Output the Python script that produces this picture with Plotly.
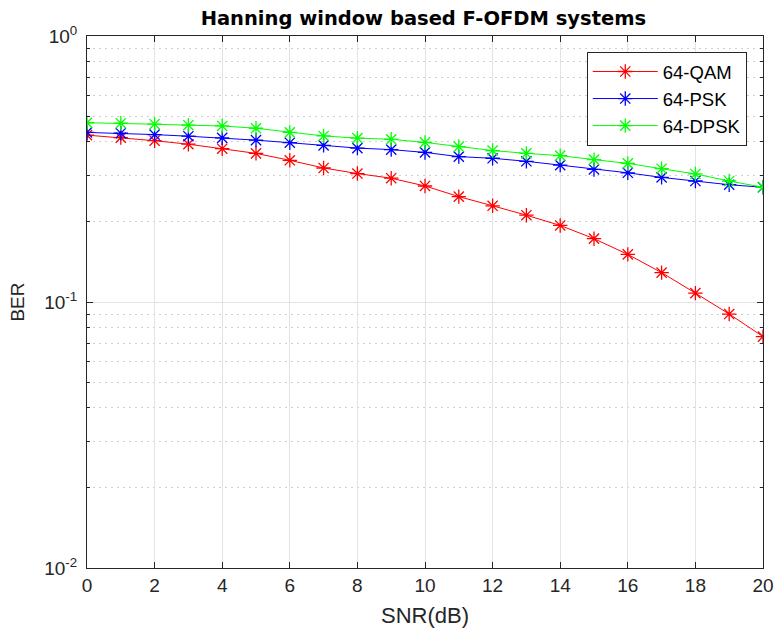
import plotly.graph_objects as go

snr = list(range(0, 21))
ber_qam = [0.424, 0.415, 0.404, 0.392, 0.377, 0.362, 0.341, 0.319, 0.304, 0.292, 0.273,
           0.249, 0.230, 0.212, 0.194, 0.173, 0.151, 0.129, 0.108, 0.0901, 0.0741]
ber_psk = [0.434, 0.431, 0.426, 0.420, 0.414, 0.406, 0.397, 0.388, 0.379, 0.374, 0.365,
           0.352, 0.347, 0.338, 0.327, 0.315, 0.306, 0.294, 0.285, 0.276, 0.270]
ber_dpsk = [0.472, 0.470, 0.466, 0.462, 0.459, 0.450, 0.434, 0.421, 0.413, 0.409, 0.398,
            0.384, 0.371, 0.362, 0.355, 0.343, 0.332, 0.317, 0.303, 0.285, 0.270]
names = ["64-QAM", "64-PSK", "64-DPSK"]
colors = ["#ff0000", "#0000ff", "#00ff00"]
x_ticks = list(range(0, 21, 2))
y_ticks = [0.01, 0.1, 1]
y_ticktext = ["10<sup>-2</sup>", "10<sup>-1</sup>", "10<sup>0</sup>"]
minor_vals = [m * 10.0 ** e for e in (-2, -1) for m in range(2, 10)]

fig = go.Figure()
for name, ys, c in zip(names, [ber_qam, ber_psk, ber_dpsk], colors):
    fig.add_trace(go.Scatter(
        x=snr, y=ys, name=name, mode="lines+markers",
        line=dict(color=c, width=1),
        marker=dict(symbol="asterisk-open", size=12, color=c, line=dict(color=c, width=1.3)),
    ))

font = "Liberation Sans, Arial, sans-serif"
tickfont = dict(family=font, size=19, color="#262626")
fig.update_layout(
    width=774, height=635,
    margin=dict(l=87, r=11, t=36, b=67),
    paper_bgcolor="white", plot_bgcolor="white",
    font=dict(family=font, size=19, color="#262626"),
    title=dict(text="<b>Hanning window based F-OFDM systems</b>", x=0.547, xanchor="center",
               y=0.972, yanchor="middle",
               font=dict(family="DejaVu Sans, sans-serif", size=19.5, color="black")),
    legend=dict(x=0.976, xanchor="right", y=0.97, yanchor="top",
                bgcolor="white", bordercolor="#262626", borderwidth=1,
                font=dict(size=18.5, color="black"), itemwidth=65, tracegroupgap=0),
    showlegend=True,
)
fig.update_xaxes(
    range=[0, 20], tickvals=x_ticks, ticks="inside", ticklen=6, tickcolor="#262626",
    tickfont=tickfont,
    showline=True, linecolor="#262626", linewidth=1, mirror="ticks", automargin=False,
    showgrid=True, gridcolor="#e3e3e3", gridwidth=1, zeroline=False,
    title=dict(text="SNR(dB)", font=dict(size=22, color="#262626"), standoff=12),
)
fig.update_yaxes(
    type="log", range=[-2, 0], tickvals=y_ticks, ticktext=y_ticktext,
    ticks="inside", ticklen=6, tickcolor="#262626", automargin=False,
    tickfont=tickfont, ticklabelstandoff=5,
    showline=True, linecolor="#262626", linewidth=1, mirror="ticks",
    showgrid=True, gridcolor="#e3e3e3", gridwidth=1, zeroline=False,
    minor=dict(tickvals=minor_vals, ticks="inside", ticklen=3, tickcolor="#262626",
               showgrid=True, gridcolor="#cfcfcf", griddash="2px,4px", gridwidth=1),
    title=dict(text="BER", font=dict(size=19, color="#262626"), standoff=14),
)
fig.write_html("out.html")
